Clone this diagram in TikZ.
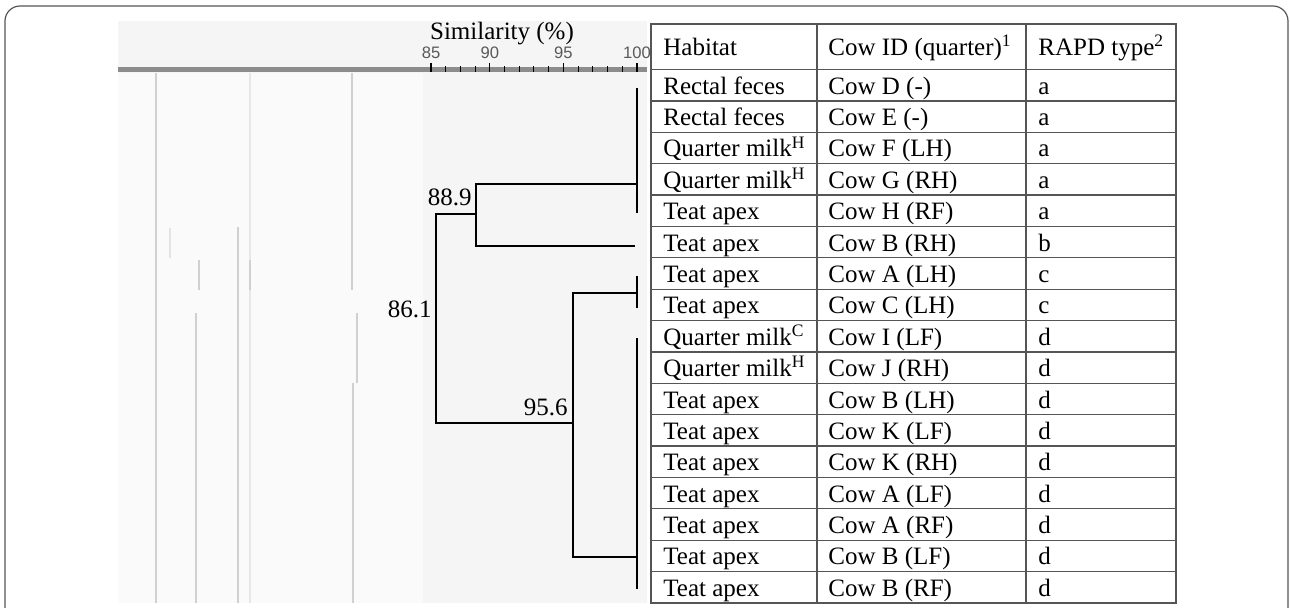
\documentclass[tikz,border=0pt]{standalone}
\usepackage{fontspec}
\setmainfont{Liberation Serif}
\newfontfamily\axisfont{Liberation Sans}
\usetikzlibrary{positioning}
\definecolor{panelgray}{HTML}{F5F5F5}
\definecolor{gelwhite}{HTML}{FAFAFA}
\definecolor{lanegray}{HTML}{D0D0D0}
\definecolor{rulegray}{HTML}{555555}
\tikzset{
  cell/.style={anchor=base west, inner sep=0pt, font=\fontsize{12.5}{15}\selectfont},
  tablerule/.style={draw=rulegray, line width=0.65pt},
  tree/.style={draw=black, line width=0.65pt},
  lane/.style={draw=lanegray, line width=0.9pt},
  simlabel/.style={anchor=base east, inner sep=0pt, font=\fontsize{12.5}{15}\selectfont},
  ticklabel/.style={anchor=base, inner sep=0pt, font=\axisfont\fontsize{8.3}{10}\selectfont, text=black!65},
}

\begin{document}
\begin{tikzpicture}[x=0.5pt, y=-0.5pt]
  \useasboundingbox (0,0) rectangle (1290,607);
  % outer frame, open at the bottom
  \begin{scope}
    \clip (0,0) rectangle (1290,607);
    \draw[draw=rulegray, line width=0.6pt, rounded corners=7.5pt] (5,6) rectangle (1288,660);
  \end{scope}

  % gel panel
  \fill[panelgray] (118,21) rectangle (647,603);
  \fill[gelwhite] (118,73) rectangle (423,603);
  \draw[lane] (156,73) -- (156,603);
  \draw[lane] (199,260) -- (199,290);
  \draw[lane] (196,313) -- (196,603);
  \draw[lane] (238,227) -- (238,603);
  \draw[lane, draw=lanegray!50] (250,73) -- (250,603);
  \draw[lane] (250,260) -- (250,290);
  \draw[lane] (352,73) -- (352,290);
  \draw[lane] (357,313) -- (357,383);
  \draw[lane] (353,383) -- (353,603);
  \draw[lane, draw=lanegray!60] (170,228) -- (170,258);

  % similarity scale
  \fill[black!45] (118,67) rectangle (647,72);
  \foreach \k in {0,...,14}
    \draw[line width=0.5pt] ({431+\k*14.71},66) -- ++(0,6);
  \foreach \k/\v in {0/85,4/90,9/95,14/100} {
    \draw[line width=0.6pt] ({431+\k*14.71},63) -- ++(0,9);
    \node[ticklabel] (tick\v) at ({431+\k*14.71},58) {\v};
  }
  \node[anchor=base, inner sep=0pt, font=\fontsize{12.5}{15}\selectfont] (simtitle) at (502,39) {Similarity (\%)};

  % dendrogram
  \draw[tree] (637,88) -- (637,213);
  \draw[tree] (637,184) -| (476,246) -- (635,246);
  \draw[tree] (476,214) -| (436,423) -- (573,423);
  \draw[tree] (637,276) -- (637,308);
  \draw[tree] (637,293) -| (573,557) -- (637,557);
  \draw[tree] (637,338) -- (637,589);
  \node[simlabel] (lab889) at (472,205) {88.9};
  \node[simlabel] (lab861) at (432,317) {86.1};
  \node[simlabel] (lab956) at (568,415) {95.6};

  % table
  \draw[tablerule] (651,24) rectangle (1176,603);
  \draw[tablerule] (817,24) -- (817,603);
  \draw[tablerule] (1026,24) -- (1026,603);
  \draw[tablerule] (651,69.5) -- (1176,69.5);
  \foreach \i in {1,...,16}
    \draw[tablerule] (651,{69.5+\i*31.38}) -- (1176,{69.5+\i*31.38});
  \node[cell] (habhead) at (663,55) {Habitat};
  \node[cell] (cowhead) at (828,55) {Cow ID (quarter)\textsuperscript{1}};
  \node[cell] (typhead) at (1038,55) {RAPD type\textsuperscript{2}};
  \foreach \hab/\cow/\typ [count=\i] in {
      Rectal feces/Cow D (-)/a,
      Rectal feces/Cow E (-)/a,
      Quarter milk\textsuperscript{H}/Cow F (LH)/a,
      Quarter milk\textsuperscript{H}/Cow G (RH)/a,
      Teat apex/Cow H (RF)/a,
      Teat apex/Cow B (RH)/b,
      Teat apex/Cow A (LH)/c,
      Teat apex/Cow C (LH)/c,
      Quarter milk\textsuperscript{C}/Cow I (LF)/d,
      Quarter milk\textsuperscript{H}/Cow J (RH)/d,
      Teat apex/Cow B (LH)/d,
      Teat apex/Cow K (LF)/d,
      Teat apex/Cow K (RH)/d,
      Teat apex/Cow A (LF)/d,
      Teat apex/Cow A (RF)/d,
      Teat apex/Cow B (LF)/d,
      Teat apex/Cow B (RF)/d} {
    \node[cell] (hab\i) at (663,{69.5+(\i-0.5)*31.38+9}) {\hab};
    \node[cell] (cow\i) at (828,{69.5+(\i-0.5)*31.38+9}) {\cow};
    \node[cell] (typ\i) at (1038,{69.5+(\i-0.5)*31.38+9}) {\typ};
  }
\end{tikzpicture}
\end{document}
